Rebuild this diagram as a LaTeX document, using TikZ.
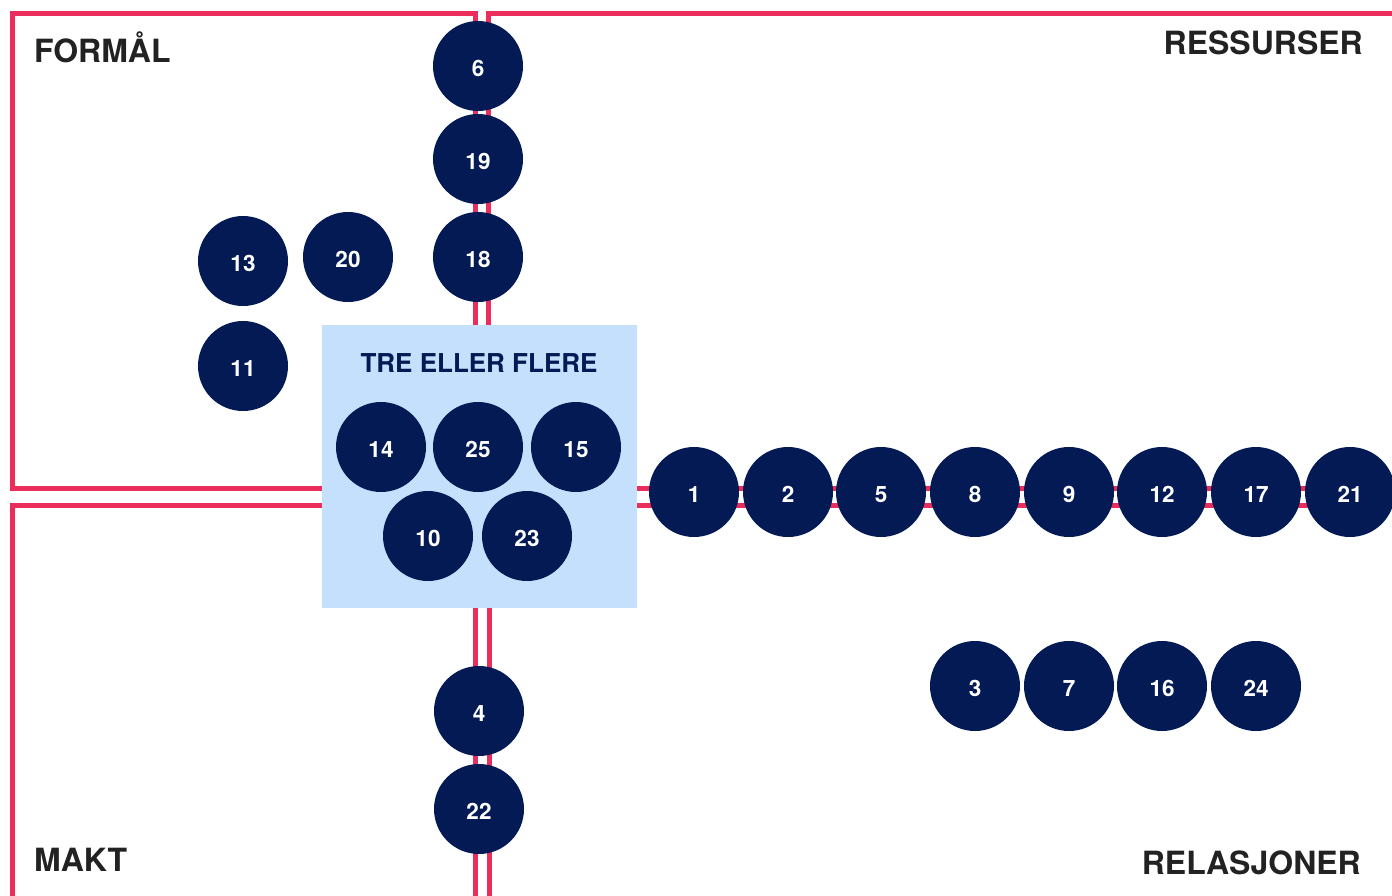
\documentclass[tikz,border=0pt]{standalone}
\usepackage{fontspec}
\setmainfont{TeX Gyre Heros}
\usetikzlibrary{calc}
\definecolor{navy}{HTML}{031A55}
\definecolor{linered}{HTML}{EA2D5B}
\definecolor{boxblue}{HTML}{C5E0FC}
\definecolor{labelc}{HTML}{222222}

\begin{document}
\begin{tikzpicture}[x=1pt,y=-1pt,
  dot/.style={circle,fill=navy,minimum size=90pt,inner sep=0pt,text height=21pt,text depth=0pt,text=white,font=\fontsize{22.5}{22.5}\selectfont\bfseries},
  quad/.style={inner sep=0pt,text=labelc,font=\fontsize{32}{32}\selectfont\bfseries},
  border/.style={linered,line width=5pt}]
\useasboundingbox (0,0) rectangle (1392,895);
\fill[white] (0,0) rectangle (1392,895);
% quadrant borders
\draw[border] (12,13) rectangle (475,488);
\draw[border] (1400,13) -- (488,13) -- (488,488) -- (1400,488);
\draw[border] (12,900) -- (12,505) -- (475,505) -- (475,900);
\draw[border] (1400,505) -- (489,505) -- (489,900);
% shared box
\node[fill=boxblue,minimum width=315pt,minimum height=283pt,inner sep=0pt] (tre) at (479.5,466.5) {};
\node[inner sep=0pt,text=navy,font=\fontsize{26}{26}\selectfont\bfseries] (treflere) at (479,363) {TRE ELLER FLERE};
% quadrant names
\node[quad,anchor=west] (formal) at (34,47) {FORMÅL};
\node[quad,anchor=east] (ressurser) at (1363,43) {RESSURSER};
\node[quad,anchor=west] (makt) at (34,860) {MAKT};
\node[quad,anchor=east] (relasjoner) at (1361,863) {RELASJONER};
% numbered dots
\foreach \n/\x/\y in {6/478/66,19/478/159,18/478/257,13/243/261,20/348/257,11/243/366,
  14/381/447,25/478/447,15/576/447,10/428/536,23/527/536,
  1/694/492,2/788/492,5/881/492,8/975/492,9/1069/492,12/1162/492,17/1256/492,21/1350/492,
  3/975/686,7/1069/686,16/1162/686,24/1256/686,4/479/711,22/479/809}{
  \node[dot] (c\n) at (\x,\y) {\n};}
\end{tikzpicture}
\end{document}
